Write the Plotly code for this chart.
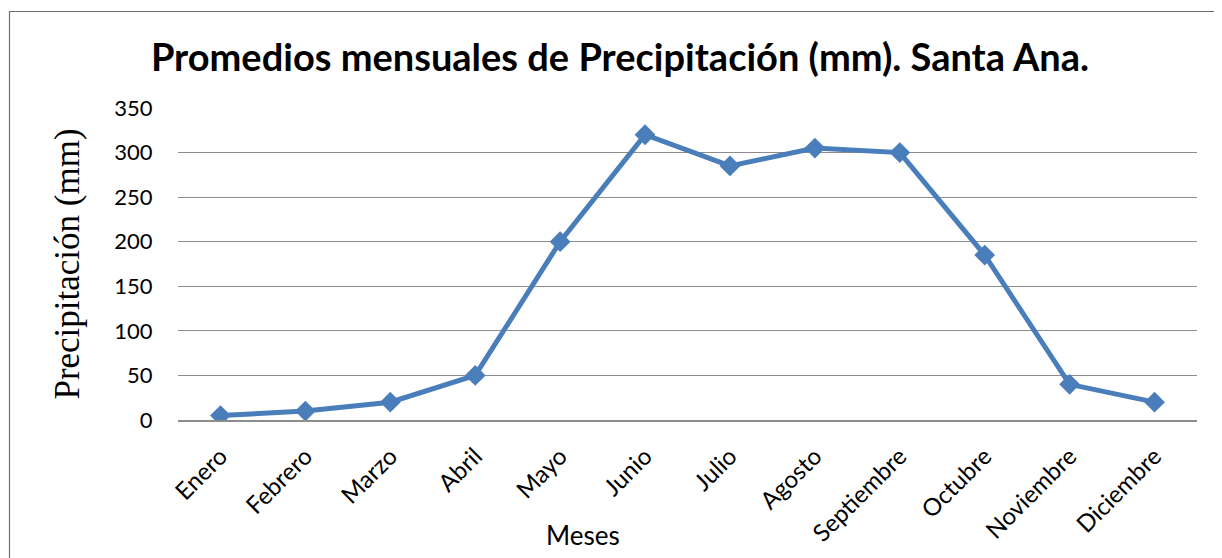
import plotly.graph_objects as go

meses = ["Enero", "Febrero", "Marzo", "Abril", "Mayo", "Junio", "Julio",
         "Agosto", "Septiembre", "Octubre", "Noviembre", "Diciembre"]
precipitacion = [5, 10, 20, 50, 200, 320, 285, 305, 300, 185, 40, 20]
y_ticks = [0, 50, 100, 150, 200, 250, 300, 350]

OFF = 8  # page body margin in the browser
W, H = 1222 - OFF, 558 - OFF
L, R, T, B = 178 - OFF, 25, 108 - OFF, 138
pw, ph = W - L - R, H - T - B

def px_x(p):
    return (p - OFF - L) / pw

def px_y(p):
    return (H - B - (p - OFF)) / ph

fig = go.Figure()
fig.add_trace(go.Scatter(
    x=meses, y=precipitacion, mode="lines+markers",
    line=dict(color="#4A7EBB", width=5),
    marker=dict(symbol="diamond", size=16, color="#4A7EBB"),
    showlegend=False,
))

fig.update_layout(
    width=W, height=H,
    margin=dict(l=L, r=R, t=T, b=B, autoexpand=False),
    paper_bgcolor="white", plot_bgcolor="white",
    title=dict(text="<b>Promedios mensuales de Precipitación (mm). Santa Ana.</b>",
               font=dict(family="Lato", size=38, color="black"),
               x=(620 - OFF) / W, xanchor="center",
               y=1 - (58 - OFF) / H, yanchor="middle"),
    xaxis=dict(type="category", range=[-0.5, 11.5], tickangle=-45, automargin=False,
               tickfont=dict(family="Lato", size=24, color="black"),
               showgrid=False, showline=True, linecolor="#8C8C8C", linewidth=1.5,
               ticks="outside", ticklen=11, tickcolor="rgba(0,0,0,0)"),
    yaxis=dict(range=[0, 350], tickvals=y_ticks, automargin=False,
               tickfont=dict(family="Lato", size=22, color="black"),
               showgrid=True, gridcolor="#8C8C8C", gridwidth=1.2,
               zeroline=False, showline=False,
               ticks="outside", ticklen=20, tickcolor="rgba(0,0,0,0)",
               title=dict(text="Precipitación (mm)",
                          font=dict(family="Liberation Serif", size=35, color="black"),
                          standoff=24)),
)

fig.add_annotation(text="Meses", xref="paper", yref="paper",
                   x=px_x(583), y=px_y(535), xanchor="center", yanchor="middle",
                   showarrow=False, font=dict(family="Lato", size=26, color="black"))

fig.add_shape(type="rect", xref="paper", yref="paper",
              x0=px_x(9.5), x1=px_x(1230), y0=px_y(570), y1=px_y(11.5),
              line=dict(color="#6E6E6E", width=1.2), fillcolor="rgba(0,0,0,0)", layer="below")

fig.write_html("out.html")
